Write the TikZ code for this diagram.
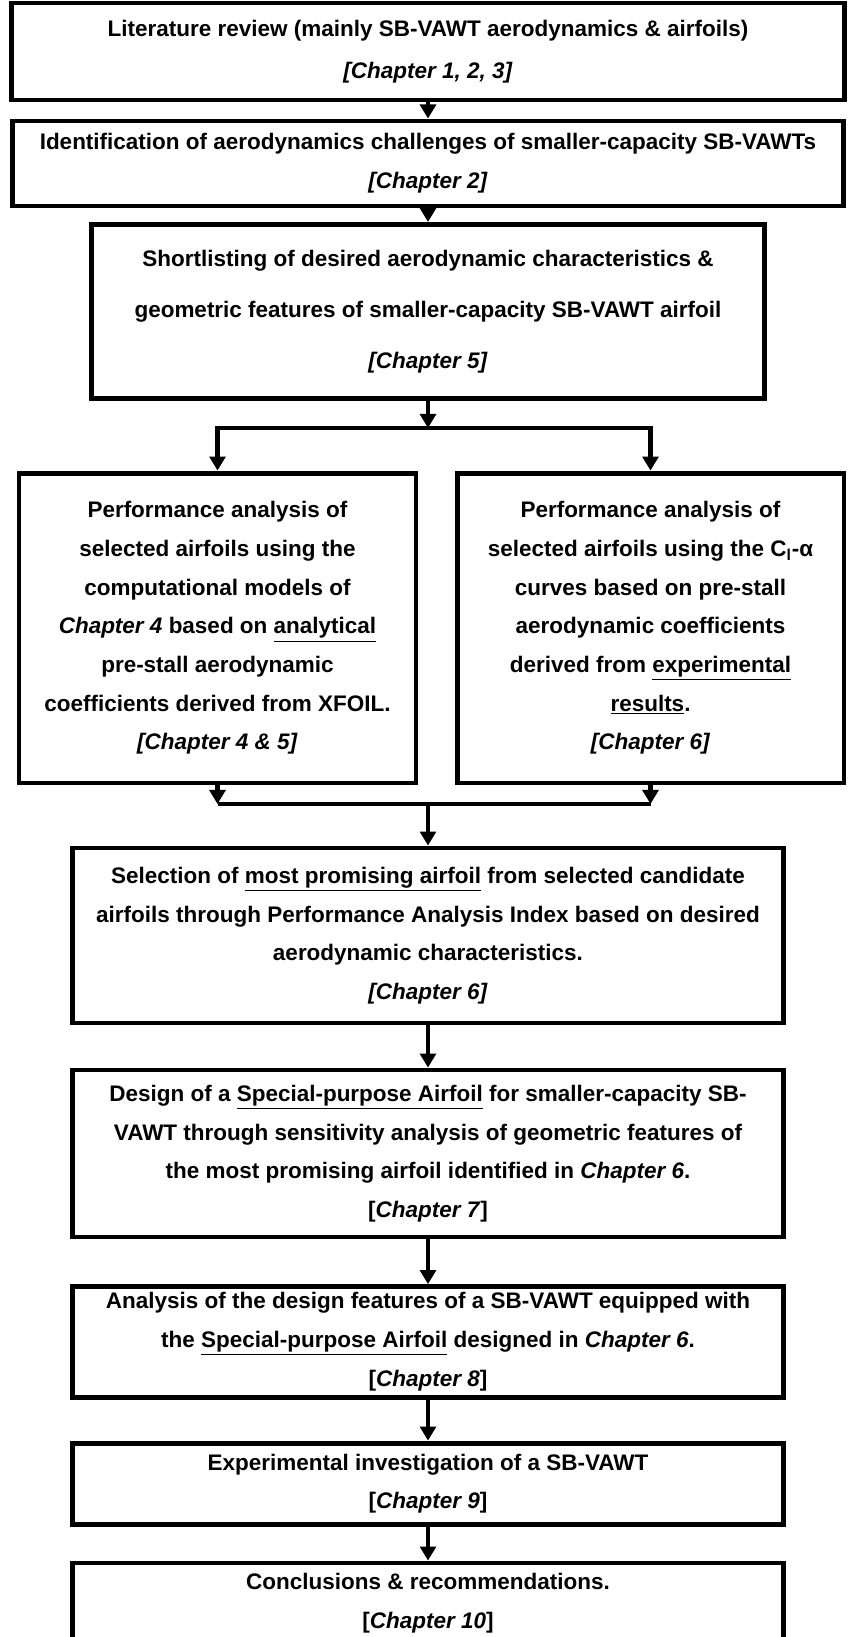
\documentclass[tikz,border=0pt]{standalone}
\usepackage{fontspec}
\setmainfont{Liberation Sans}
\usepackage{tikz}
\usetikzlibrary{arrows.meta, calc, positioning}

\tikzset{
    box/.style={draw, line width=2.8pt, align=center, inner sep=2pt,
        font=\bfseries\fontsize{12.8}{22}\selectfont},
    arr/.style={line width=2.4pt, -{Triangle[width=9pt, length=8pt]}},
    link/.style={line width=2.4pt}
}

\begin{document}
\begin{tikzpicture}[x=0.02cm, y=-0.02cm]
                        \useasboundingbox (0,0) rectangle (851,1637);
                        \clip (0,0) rectangle (851,1637);
                        % main column
                        \node[box, minimum width=16.68cm, minimum height=1.94cm,
                              font=\bfseries\fontsize{12.8}{24}\selectfont] (n1) at (428, 51.5)
                            {Literature review (mainly SB-VAWT aerodynamics \& airfoils)\\ \textit{[Chapter 1, 2, 3]}};
                        \node[box, minimum width=16.62cm, minimum height=1.70cm] (n2) at (428, 163.5)
                            {Identification of aerodynamics challenges of smaller-capacity SB-VAWTs\\ \textit{[Chapter 2]}};
                        \node[box, minimum width=13.48cm, minimum height=3.49cm,
                              font=\bfseries\fontsize{12.8}{29}\selectfont] (n3) at (428, 311.7)
                            {Shortlisting of desired aerodynamic characteristics \&\\
                             geometric features of smaller-capacity SB-VAWT airfoil\\ \textit{[Chapter 5]}};
                        % two branches
                        \node[box, minimum width=7.94cm, minimum height=6.2cm] (n4a) at (217.5, 628)
                            {Performance analysis of\\ selected airfoils using the\\ computational models of\\
                             \textit{Chapter 4} based on \underline{analytical}\\ pre-stall aerodynamic\\
                             coefficients derived from XFOIL.\\ \textit{[Chapter 4 \& 5]}};
                        \node[box, minimum width=7.74cm, minimum height=6.2cm] (n4b) at (650.5, 628)
                            {Performance analysis of\\ selected airfoils using the C\textsubscript{l}-α\\
                             curves based on pre-stall\\ aerodynamic coefficients\\
                             derived from \underline{experimental}\\ \underline{results}.\\ \textit{[Chapter 6]}};
                        \node[box, minimum width=14.24cm, minimum height=3.5cm] (n5) at (428, 935.5)
                            {Selection of \underline{most promising airfoil} from selected candidate\\
                             airfoils through Performance Analysis Index based on desired\\
                             aerodynamic characteristics.\\ \textit{[Chapter 6]}};
                        \node[box, minimum width=14.24cm, minimum height=3.34cm] (n6) at (428, 1153.5)
                            {Design of a \underline{Special-purpose Airfoil} for smaller-capacity SB-\\
                             VAWT through sensitivity analysis of geometric features of\\
                             the most promising airfoil identified in \textit{Chapter 6}.\\ {[}\textit{Chapter 7}]};
                        \node[box, minimum width=14.24cm, minimum height=2.21cm] (n7) at (428, 1341.8)
                            {Analysis of the design features of a SB-VAWT equipped with\\
                             the \underline{Special-purpose Airfoil} designed in \textit{Chapter 6}.\\ {[}\textit{Chapter 8}]};
                        \node[box, minimum width=14.24cm, minimum height=1.63cm] (n8) at (428, 1483.8)
                            {Experimental investigation of a SB-VAWT\\ {[}\textit{Chapter 9}]};
                        \node[box, minimum width=14.24cm, minimum height=1.6cm] (n9) at (428, 1603)
                            {Conclusions \& recommendations.\\ {[}\textit{Chapter 10}]};
                        % split and merge points
                        \coordinate (split) at (428, 428);
                        \coordinate (merge) at (428, 804);
                        \coordinate (mergeL) at (n4a |- merge);
                        \coordinate (mergeR) at (n4b |- merge);
                        \draw[arr] (n1) -- (n2);
                        \draw[arr] (n2) -- (n3);
                        \draw[arr] (n3) -- (split);
                        \draw[arr] (split) -| (n4a);
                        \draw[arr] (split) -| (n4b);
                        \draw[arr] (n4a) -- (mergeL);
                        \draw[arr] (n4b) -- (mergeR);
                        \draw[link] (mergeL) -- (mergeR);
                        \draw[arr] (merge) -- (n5);
                        \draw[arr] (n5) -- (n6);
                        \draw[arr] (n6) -- (n7);
                        \draw[arr] (n7) -- (n8);
                        \draw[arr] (n8) -- (n9);
                    \end{tikzpicture}
\end{document}
